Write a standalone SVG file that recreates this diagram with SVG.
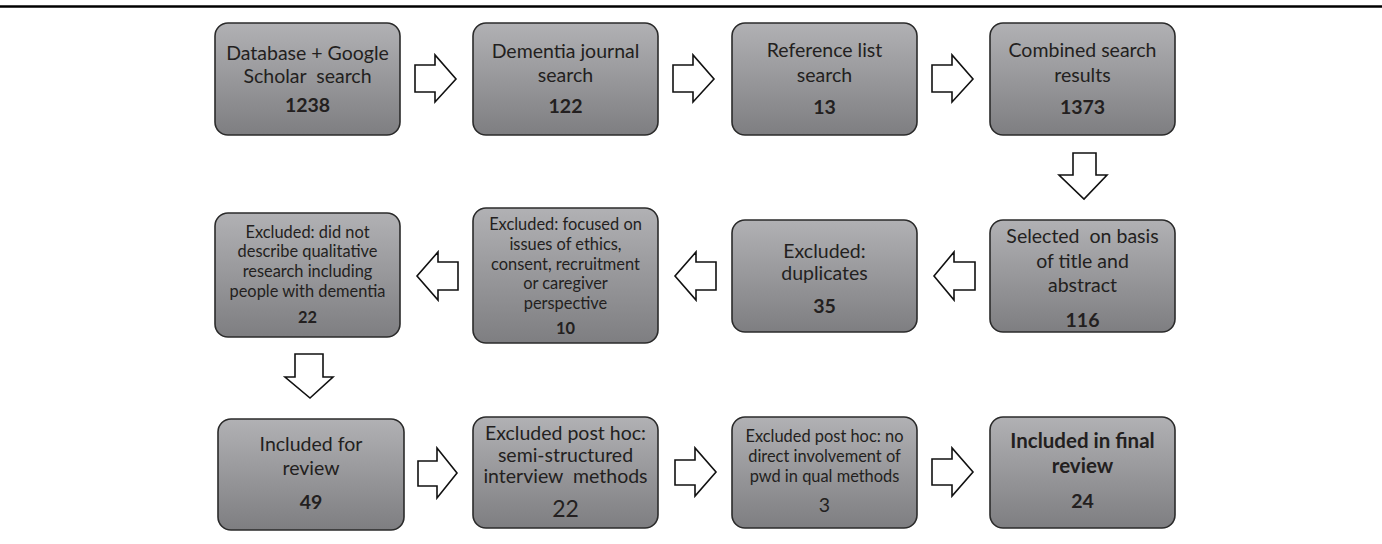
<svg xmlns="http://www.w3.org/2000/svg" width="1382" height="544" viewBox="0 0 1382 544">
<defs>
<linearGradient id="g" x1="0" y1="0" x2="0" y2="1">
<stop offset="0" stop-color="#b1b1b4"/>
<stop offset="1" stop-color="#7e7e81"/>
</linearGradient>
</defs>
<style>
.box{fill:url(#g);stroke:#2b2b2b;stroke-width:1.6}
.t{font-family:Lato,"Open Sans","Liberation Sans",sans-serif;fill:#231f20;text-anchor:middle;white-space:pre}
.l{font-size:19.5px}
.s{font-size:16.4px}
.b{font-weight:bold}
.arr{fill:#fff;stroke:#111;stroke-width:1.6;stroke-linejoin:miter}
</style>
<rect width="1382" height="544" fill="#fff"/>
<line x1="0" y1="6.5" x2="1382" y2="6.5" stroke="#000" stroke-width="2.5"/>
<g id="n1"><rect class="box" x="215" y="23" width="185" height="112" rx="13"/>
<text class="t l" x="307.5" y="60">Database + Google</text>
<text class="t l" x="307.5" y="83" xml:space="preserve">Scholar  search</text>
<text class="t l b" x="307.5" y="112">1238</text></g>
<g id="n2"><rect class="box" x="473" y="23" width="185" height="112" rx="13"/>
<text class="t l" x="565.5" y="58">Dementia journal</text>
<text class="t l" x="565.5" y="82">search</text>
<text class="t l b" x="565.5" y="113">122</text></g>
<g id="n3"><rect class="box" x="732" y="23" width="185" height="112" rx="13"/>
<text class="t l" x="824.5" y="57">Reference list</text>
<text class="t l" x="824.5" y="82">search</text>
<text class="t l b" x="824.5" y="114">13</text></g>
<g id="n4"><rect class="box" x="990" y="23" width="185" height="112" rx="13"/>
<text class="t l" x="1082.5" y="57">Combined search</text>
<text class="t l" x="1082.5" y="82">results</text>
<text class="t l b" x="1082.5" y="114">1373</text></g>
<g id="n5"><rect class="box" x="990" y="220" width="185" height="112" rx="13"/>
<text class="t l" x="1082.5" y="243" xml:space="preserve">Selected  on basis</text>
<text class="t l" x="1082.5" y="268">of title and</text>
<text class="t l" x="1082.5" y="292">abstract</text>
<text class="t l b" x="1082.5" y="327">116</text></g>
<g id="n6"><rect class="box" x="732" y="220" width="185" height="112" rx="13"/>
<text class="t l" x="824.5" y="258">Excluded:</text>
<text class="t l" x="824.5" y="280">duplicates</text>
<text class="t l b" x="824.5" y="313">35</text></g>
<g id="n7"><rect class="box" x="473" y="208" width="185" height="135" rx="13"/>
<text class="t s" x="565.5" y="230">Excluded: focused on</text>
<text class="t s" x="565.5" y="250">issues of ethics,</text>
<text class="t s" x="565.5" y="270">consent, recruitment</text>
<text class="t s" x="565.5" y="289">or caregiver</text>
<text class="t s" x="565.5" y="309">perspective</text>
<text class="t s b" x="565.5" y="334">10</text></g>
<g id="n8"><rect class="box" x="215" y="213" width="185" height="124" rx="13"/>
<text class="t s" x="307.5" y="238">Excluded: did not</text>
<text class="t s" x="307.5" y="257">describe qualitative</text>
<text class="t s" x="307.5" y="277">research including</text>
<text class="t s" x="307.5" y="297">people with dementia</text>
<text class="t s b" x="307.5" y="323">22</text></g>
<g id="n9"><rect class="box" x="218" y="419" width="186" height="111" rx="13"/>
<text class="t l" x="311" y="451">Included for</text>
<text class="t l" x="311" y="475">review</text>
<text class="t l b" x="311" y="509">49</text></g>
<g id="n10"><rect class="box" x="473" y="417" width="185" height="111" rx="13"/>
<text class="t l" x="565.5" y="440">Excluded post hoc:</text>
<text class="t l" x="565.5" y="462">semi-structured</text>
<text class="t l" x="565.5" y="483" xml:space="preserve">interview  methods</text>
<text class="t" style="font-size:23px" x="565.5" y="517">22</text></g>
<g id="n11"><rect class="box" x="732" y="417" width="185" height="111" rx="13"/>
<text class="t s" x="824.5" y="442">Excluded post hoc: no</text>
<text class="t s" x="824.5" y="462">direct involvement of</text>
<text class="t s" x="824.5" y="482">pwd in qual methods</text>
<text class="t l" x="824.5" y="512">3</text></g>
<g id="n12"><rect class="box" x="990" y="417" width="185" height="111" rx="13"/>
<text class="t b" style="font-size:20.5px" x="1082.5" y="448">Included in final</text>
<text class="t b" style="font-size:20.5px" x="1082.5" y="473">review</text>
<text class="t l b" x="1082.5" y="508">24</text></g>
<g id="connectors">
<polygon class="arr" points="415,65 435,65 435,55 456,79 435,102 435,92 415,92"/>
<polygon class="arr" points="673,65 693,65 693,55 714,79 693,102 693,92 673,92"/>
<polygon class="arr" points="932,65 952,65 952,55 973,79 952,102 952,92 932,92"/>
<polygon class="arr" points="1073,153 1096,153 1096,175 1107,175 1084,199 1059,175 1073,175"/>
<polygon class="arr" points="975,262 954,262 954,252 934,276 954,300 954,290 975,290"/>
<polygon class="arr" points="716,262 696,262 696,252 675,276 696,300 696,290 716,290"/>
<polygon class="arr" points="458,262 438,262 438,252 417,276 438,300 438,290 458,290"/>
<polygon class="arr" points="295,354 323,354 323,377 333,377 310,398 285,377 295,377"/>
<polygon class="arr" points="418,461 437,461 437,448 457,473 437,498 437,486 418,486"/>
<polygon class="arr" points="675,460 695,460 695,448 716,472 695,496 695,485 675,485"/>
<polygon class="arr" points="932,459 952,459 952,448 973,472 952,496 952,485 932,485"/>
</g>
</svg>
